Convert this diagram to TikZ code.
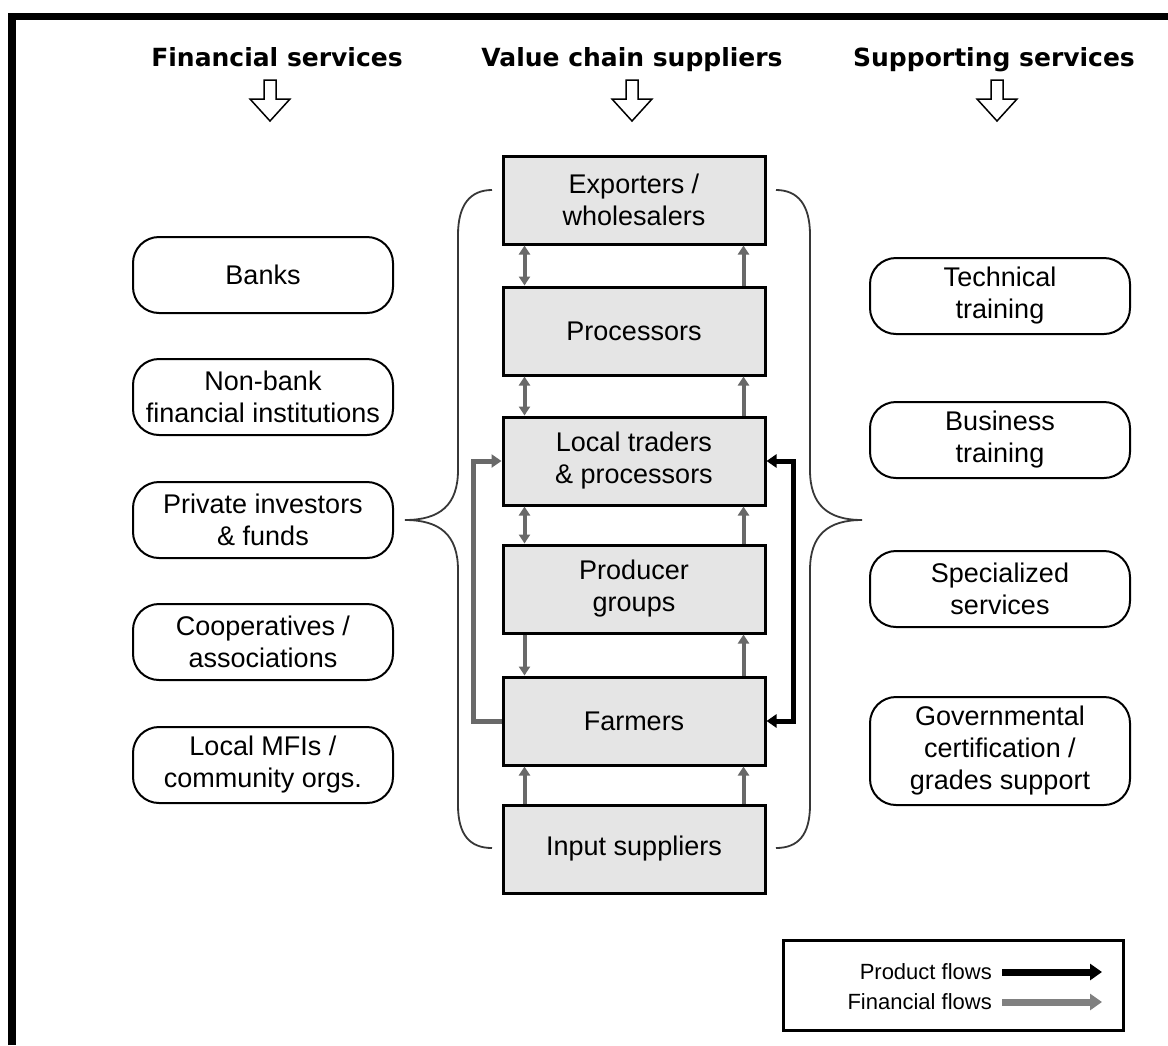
\documentclass[tikz,border=0pt]{standalone}
\usepackage{fontspec}
\setmainfont{Liberation Sans}
\newfontfamily\headfont{DejaVu Sans}
\usetikzlibrary{arrows.meta}
\definecolor{boxGray}{RGB}{229,229,229}
\definecolor{flowGray}{RGB}{105,105,105}
\definecolor{braceGray}{RGB}{55,55,55}

\begin{document}
\begin{tikzpicture}[x=1pt, y=-1pt, font=\fontsize{27}{32}\selectfont]
    \tikzstyle{chainBox} = [draw=black, line width=3, fill=boxGray, minimum width=262,
                            minimum height=88, align=center, inner sep=0]
    \tikzstyle{serviceBox} = [draw=black, line width=2, rounded corners=26, fill=white,
                              minimum width=260, minimum height=76, align=center, inner sep=0]
    \tikzstyle{headText} = [anchor=base, font=\headfont\bfseries\fontsize{25}{30}\selectfont]
    \tikzstyle{hollowArrow} = [draw=black, line width=1.5, fill=white]
    \tikzstyle{brace} = [draw=braceGray, line width=1.8]
    \tikzstyle{smallFlow} = [draw=flowGray, line width=4]
    \tikzstyle{flowBoth} = [{Triangle[length=9pt,width=11pt]}-{Triangle[length=9pt,width=11pt]}]
    \tikzstyle{flowDown} = [-{Triangle[length=9pt,width=11pt]}]
    \tikzstyle{flowUp} = [{Triangle[length=9pt,width=11pt]}-]
    \tikzstyle{finLoop} = [draw=flowGray, line width=5, -{Triangle[length=10pt,width=13pt]}]
    \tikzstyle{prodLoop} = [draw=black, line width=5,
                            {Triangle[length=10pt,width=13pt]}-{Triangle[length=10pt,width=13pt]}]
    \tikzstyle{legendText} = [anchor=east, inner sep=0, font=\fontsize{22}{26}\selectfont]
    \useasboundingbox (0,0) rectangle (1168,1045);
    % outer frame
    \draw[line width=7.5] (12,1045) -- (12,16.5) -- (1168,16.5);
    % column heads
    \node[headText] (finHead) at (277,66) {Financial services};
    \node[headText] (chainHead) at (632,66) {Value chain suppliers};
    \node[headText] (supHead) at (994,66) {Supporting services};
    \foreach \x in {270,632,997}
        \draw[hollowArrow] (\x-6,80) -- (\x+6,80) -- (\x+6,99) -- (\x+20,99)
            -- (\x,121) -- (\x-20,99) -- (\x-6,99) -- cycle;
    % value chain
    \node[chainBox] (exp) at (634,200) {Exporters /\\wholesalers};
    \node[chainBox] (proc) at (634,331) {Processors};
    \node[chainBox] (trad) at (634,461) {Local traders\\\& processors};
    \node[chainBox] (prod) at (634,589) {Producer\\groups};
    \node[chainBox] (farm) at (634,721) {Farmers};
    \node[chainBox] (inp) at (634,849) {Input suppliers};
    % financial services
    \node[serviceBox] (banks) at (263,275) {Banks};
    \node[serviceBox] (nonbank) at (263,397) {Non-bank\\financial institutions};
    \node[serviceBox] (investors) at (263,520) {Private investors\\\& funds};
    \node[serviceBox] (coops) at (263,642) {Cooperatives /\\associations};
    \node[serviceBox] (mfis) at (263,765) {Local MFIs /\\community orgs.};
    % supporting services
    \node[serviceBox] (techTrain) at (1000,296) {Technical\\training};
    \node[serviceBox] (busTrain) at (1000,440) {Business\\training};
    \node[serviceBox] (special) at (1000,589) {Specialized\\services};
    \node[serviceBox, minimum height=108] (govt) at (1000,751)
        {Governmental\\certification /\\grades support};
    % braces
    \draw[brace] (492,190) .. controls (470,190) and (458,205) .. (458,235) -- (458,470)
        .. controls (458,505) and (440,520) .. (405,520)
        .. controls (440,520) and (458,535) .. (458,570) -- (458,805)
        .. controls (458,835) and (470,848) .. (492,848);
    \draw[brace] (776,190) .. controls (798,190) and (810,205) .. (810,235) -- (810,470)
        .. controls (810,505) and (828,520) .. (862,520)
        .. controls (828,520) and (810,535) .. (810,570) -- (810,805)
        .. controls (810,835) and (798,848) .. (776,848);
    % flows between links of the chain
    \foreach \up/\low/\kind in {exp/proc/Both, proc/trad/Both, trad/prod/Both,
                                prod/farm/Down, farm/inp/Up}
        \draw[smallFlow, flow\kind] ([xshift=23pt]\up.south west) -- ([xshift=23pt]\low.north west);
    \foreach \up/\low in {exp/proc, proc/trad, trad/prod, prod/farm, farm/inp}
        \draw[smallFlow, flowDown] ([xshift=-23pt]\low.north east) -- ([xshift=-23pt]\up.south east);
    \draw[finLoop] (farm.west) -- ++(-28,0) |- (trad.west);
    \draw[prodLoop] (trad.east) -- ++(27,0) |- (farm.east);
    % legend
    \node[draw=black, line width=3, minimum width=340, minimum height=90, inner sep=0]
        (legend) at (953,985) {};
    \node[legendText] (prodLabel) at (992,972) {Product flows};
    \node[legendText] (finLabel) at (992,1002) {Financial flows};
    \coordinate (prodEnd) at (1102,972);
    \coordinate (finEnd) at (1102,1002);
    \draw[black, line width=7, shorten <=10pt, -{Triangle[length=12pt,width=16pt]}] (prodLabel.east) -- (prodEnd);
    \draw[flowGray!85, line width=7, shorten <=10pt, -{Triangle[length=12pt,width=16pt]}] (finLabel.east) -- (finEnd);
\end{tikzpicture}
\end{document}
